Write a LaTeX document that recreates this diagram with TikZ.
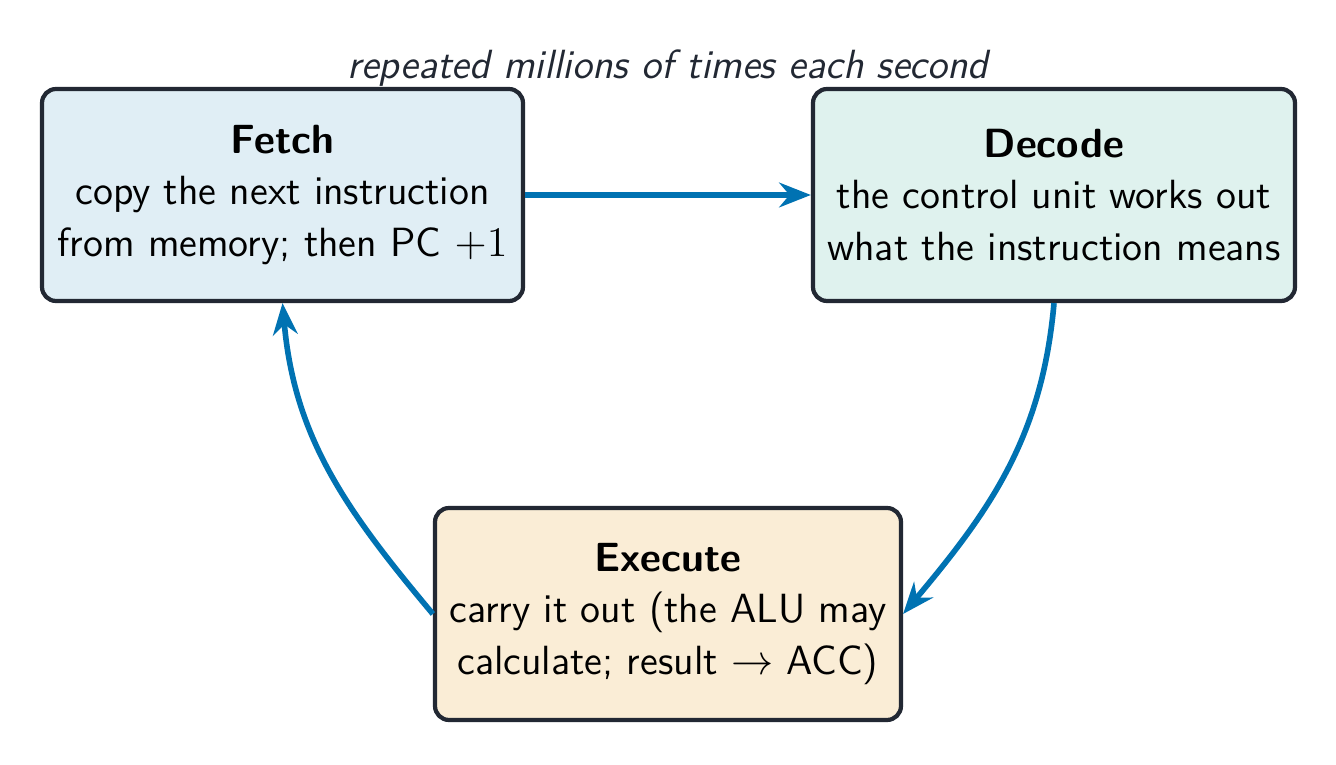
\documentclass[tikz,border=0pt]{standalone}
\usetikzlibrary{arrows.meta}
\begin{document}
\begin{tikzpicture}[
  font=\sffamily\fontsize{11.6}{14.6}\selectfont,
  box/.style={draw=bordc, line width=1.2pt, rounded corners=4pt, align=center, minimum height=2.12cm, inner sep=1pt},
  arr/.style={draw={rgb,255:red,0;green,114;blue,178}, line width=1.6pt, -{Stealth[length=9pt,width=7pt]}}
]
\useasboundingbox (0,0) rectangle (13.36,7.65);
\definecolor{fetchc}{HTML}{E0EEF5}
\definecolor{decc}{HTML}{DFF2EE}
\definecolor{exc}{HTML}{FAEDD6}
\definecolor{bordc}{HTML}{222833}
\node[box, fill=fetchc, minimum width=4.81cm] (f) at (2.825,5.70) {\textbf{Fetch}\\copy the next instruction\\from memory; then PC $+1$};
\node[box, fill=decc, minimum width=4.82cm] (d) at (10.54,5.70) {\textbf{Decode}\\the control unit works out\\what the instruction means};
\node[box, fill=exc, minimum width=4.66cm] (e) at (6.68,1.51) {\textbf{Execute}\\carry it out (the ALU may\\calculate; result $\rightarrow$ ACC)};
\node[font=\sffamily\itshape\fontsize{11.6}{14.6}\selectfont, text=bordc] (t) at (6.68,6.97) {repeated millions of times each second};
\draw[arr] (f.east) -- (d.west);
\draw[arr] (d.south) to[out=-95,in=50] (e.east);
\draw[arr] (e.west) to[out=130,in=-85] (f.south);
\end{tikzpicture}
\end{document}
